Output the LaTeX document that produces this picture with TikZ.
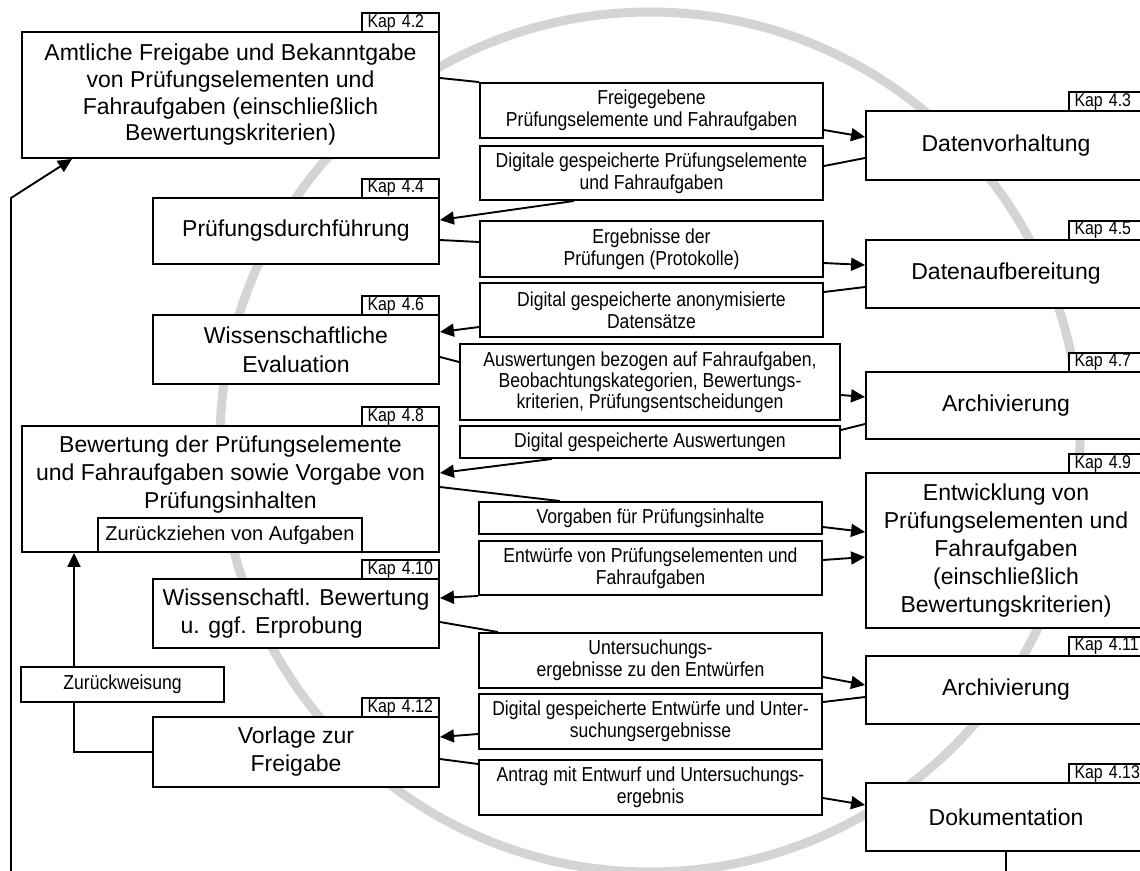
\documentclass[tikz,border=0pt]{standalone}
\usepackage{fontspec}
\setmainfont{Liberation Sans}
\newfontfamily\lblfont[FakeStretch=0.87]{Liberation Sans}
\newfontfamily\tabfont[FakeStretch=0.86]{Liberation Sans}
\usetikzlibrary{arrows.meta}
\definecolor{arcgray}{RGB}{212,212,212}
\begin{document}
\begin{tikzpicture}[x=1pt,y=-1pt,
  box/.style={draw, line width=1.9pt, fill=white, inner sep=0pt, align=center},
  bigbox/.style={box, font=\fontsize{23}{27}\selectfont},
  lbl/.style={box, font=\lblfont\fontsize{20.2}{21.8}\selectfont},
  kaptab/.style={draw, line width=1.4pt, fill=white, inner ysep=0pt, inner xsep=5.5pt,
    minimum width=77pt, minimum height=19pt, text width=66pt, align=left,
    font=\tabfont\fontsize{18.5}{18.5}\selectfont},
  conn/.style={line width=1.9pt},
  arr/.style={conn, -{Triangle[length=14pt,width=13pt]}},
]
\useasboundingbox (0,0) rectangle (1140,870);
\clip (0,0) rectangle (1140,870);
\fill[white] (0,0) rectangle (1140,870);
\draw[arcgray, line width=9pt] (650,442) circle[radius=430];

% left column
\node[kaptab] (t42) at (400.5,22.5) {Kap 4.2};
\node[bigbox, minimum width=417pt, minimum height=126pt, font=\fontsize{23}{26.7}\selectfont] (amt) at (230.5,95)
  {Amtliche Freigabe und Bekanntgabe\\von Prüfungselementen und\\Fahraufgaben (einschließlich\\Bewertungskriterien)};
\node[kaptab] (t44) at (400.5,188.5) {Kap 4.4};
\node[bigbox, minimum width=286pt, minimum height=66pt] (pd) at (296,231) {Prüfungsdurchführung};
\node[kaptab] (t46) at (400.5,305.5) {Kap 4.6};
\node[bigbox, minimum width=286pt, minimum height=69pt, font=\fontsize{23}{29}\selectfont] (ev) at (296,349.5) {Wissenschaftliche\\Evaluation};
\node[kaptab] (t48) at (400.5,416.5) {Kap 4.8};
\node[box, minimum width=417pt, minimum height=126pt] (bew) at (230.5,489) {};
\node[align=center, inner sep=0pt, font=\fontsize{23}{28}\selectfont] (bewtext) at (230.5,475)
  {Bewertung der Prüfungselemente\\und Fahraufgaben sowie Vorgabe von\\Prüfungsinhalten};
\node[box, minimum width=264pt, minimum height=34pt, font=\fontsize{20}{24}\selectfont] (zur) at (230,535) {Zurückziehen von Aufgaben};
\node[kaptab] (t410) at (400.5,569.5) {Kap 4.10};
\node[bigbox, minimum width=286pt, minimum height=69pt, align=left, font=\fontsize{23}{28}\selectfont] (wb) at (296,613.5)
  {Wissenschaftl. Bewertung\\\hspace*{18pt}u. ggf. Erprobung};
\node[kaptab] (t412) at (400.5,707.5) {Kap 4.12};
\node[bigbox, minimum width=286pt, minimum height=70pt, font=\fontsize{23}{28}\selectfont] (vz) at (296,752) {Vorlage zur\\Freigabe};

% right column
\node[kaptab] (t43) at (1107.5,101.5) {Kap 4.3};
\node[bigbox, minimum width=280pt, minimum height=69pt] (dv) at (1006,145.5) {Datenvorhaltung};
\node[kaptab] (t45) at (1107.5,230.5) {Kap 4.5};
\node[bigbox, minimum width=280pt, minimum height=68pt] (da) at (1006,274) {Datenaufbereitung};
\node[kaptab] (t47) at (1107.5,362.5) {Kap 4.7};
\node[bigbox, minimum width=280pt, minimum height=67pt] (ar1) at (1006,405.5) {Archivierung};
\node[kaptab] (t49) at (1107.5,463.5) {Kap 4.9};
\node[bigbox, minimum width=280pt, minimum height=155pt, font=\fontsize{23}{28}\selectfont] (ent) at (1006,550.5)
  {Entwicklung von\\Prüfungselementen und\\Fahraufgaben\\(einschließlich\\Bewertungskriterien)};
\node[kaptab] (t411) at (1107.5,646.5) {Kap 4.11};
\node[bigbox, minimum width=280pt, minimum height=68pt] (ar2) at (1006,690) {Archivierung};
\node[kaptab] (t413) at (1107.5,773.5) {Kap 4.13};
\node[bigbox, minimum width=280pt, minimum height=68pt] (dok) at (1006,817) {Dokumentation};

% labels
\node[lbl, minimum width=343pt, minimum height=55pt] (l1) at (651.5,110.5) {Freigegebene\\Prüfungselemente und Fahraufgaben};
\node[lbl, minimum width=343pt, minimum height=54pt] (l2) at (651.5,173) {Digitale gespeicherte Prüfungselemente\\und Fahraufgaben};
\node[lbl, minimum width=343pt, minimum height=56pt] (l3) at (651.5,249) {Ergebnisse der\\Prüfungen (Protokolle)};
\node[lbl, minimum width=343pt, minimum height=54pt] (l4) at (651.5,310) {Digital gespeicherte anonymisierte\\Datensätze};
\node[lbl, minimum width=380pt, minimum height=76pt, font=\lblfont\fontsize{20.2}{20.8}\selectfont] (l5) at (650,382)
  {Auswertungen bezogen auf Fahraufgaben,\\Beobachtungskategorien, Bewertungs-\\kriterien, Prüfungsentscheidungen};
\node[lbl, minimum width=380pt, minimum height=32pt] (l6) at (650,442) {Digital gespeicherte Auswertungen};
\node[lbl, minimum width=343pt, minimum height=32pt] (l7) at (650.5,518) {Vorgaben für Prüfungsinhalte};
\node[lbl, minimum width=343pt, minimum height=54pt] (l8) at (650.5,568) {Entwürfe von Prüfungselementen und\\Fahraufgaben};
\node[lbl, minimum width=343pt, minimum height=55pt] (l9) at (650.5,660.5) {Untersuchungs-\\ergebnisse zu den Entwürfen};
\node[lbl, minimum width=343pt, minimum height=55pt] (l10) at (650.5,721.5) {Digital gespeicherte Entwürfe und Unter-\\suchungsergebnisse};
\node[lbl, minimum width=343pt, minimum height=55pt] (l11) at (650.5,787.5) {Antrag mit Entwurf und Untersuchungs-\\ergebnis};

% connectors
\draw[conn] ([yshift=17pt]amt.east) -- (l1.north west);
\draw[arr] ([yshift=-19.5pt]l1.east) -- ([yshift=8.5pt]dv.west);
\draw[conn] ([yshift=-12.5pt]dv.west) -- ([yshift=7pt]l2.east);
\draw[arr] ([xshift=-77.5pt]l2.south) -- ([yshift=11pt]pd.east);
\draw[conn] ([yshift=-9pt]pd.east) -- ([yshift=7pt]l3.west);
\draw[arr] ([yshift=-14pt]l3.east) -- ([yshift=9pt]da.west);
\draw[conn] ([yshift=-13pt]da.west) -- ([yshift=18pt]l4.east);
\draw[arr] ([yshift=-17pt]l4.west) -- ([yshift=17.5pt]ev.east);
\draw[conn] ([yshift=-7.5pt]ev.east) -- ([yshift=20pt]l5.west);
\draw[arr] ([yshift=-13pt]l5.east) -- ([yshift=8.5pt]ar1.west);
\draw[conn] ([yshift=-18.5pt]ar1.west) -- ([yshift=12pt]l6.east);
\draw[arr] ([xshift=-98pt]l6.south) -- ([yshift=16pt]bew.east);
\draw[conn] ([yshift=2pt]bew.east) -- ([xshift=-90.5pt]l7.north);
\draw[arr] ([yshift=-9pt]l7.east) -- ([yshift=18.5pt]ent.west);
\draw[arr] ([yshift=8pt]l8.east) -- ([yshift=-6.5pt]ent.west);
\draw[arr] (l8.south west) -- ([yshift=15.5pt]wb.east);
\draw[conn] ([yshift=-8.5pt]wb.east) -- ([xshift=20pt]l9.north west);
\draw[arr] ([yshift=-16.5pt]l9.east) -- ([yshift=5pt]ar2.west);
\draw[conn] ([yshift=-7pt]ar2.west) -- ([yshift=19.5pt]l10.east);
\draw[arr] ([yshift=-12.5pt]l10.west) -- ([yshift=15pt]vz.east);
\draw[conn] ([yshift=-7pt]vz.east) -- ([yshift=23.5pt]l11.west);
\draw[arr] ([yshift=-10.5pt]l11.east) -- ([yshift=12pt]dok.west);
\draw[arr] (vz.west) -| ([xshift=-156.5pt]bew.south);
\coordinate (lb) at (11,900);
\coordinate (lt) at (11,198);
\draw[arr] (dok.south) |- (lb) -- (lt) -- ([xshift=-158.5pt]amt.south);

\node[lbl, minimum width=203pt, minimum height=35pt] (zw) at (122.5,684.5) {Zurückweisung};
\end{tikzpicture}
\end{document}
